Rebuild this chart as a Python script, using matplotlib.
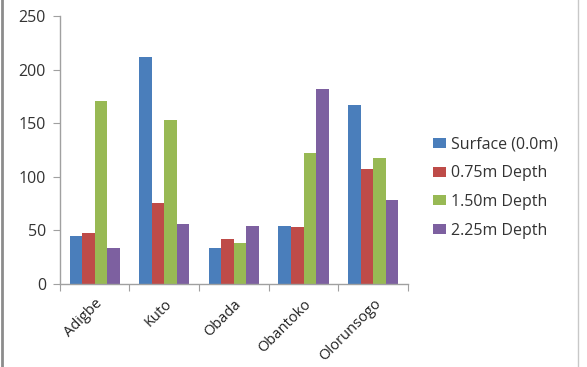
import matplotlib
matplotlib.use("Agg")
import matplotlib.pyplot as plt
import numpy as np
from matplotlib.lines import Line2D

categories = ["Adigbe", "Kuto", "Obada", "Obantoko", "Olorunsogo"]
series_names = ["Surface (0.0m)", "0.75m Depth", "1.50m Depth", "2.25m Depth"]
surface = [45, 212, 34, 54, 167]
d075 = [48, 76, 42, 53, 107]
d150 = [171, 153, 38, 122, 118]
d225 = [34, 56, 54, 182, 78]
colors = ["#4a7ebb", "#be4b48", "#98b954", "#7d60a0"]

plt.rcParams['font.family'] = ['Open Sans', 'DejaVu Sans']

fig = plt.figure(figsize=(5.87, 3.67), dpi=100)
ax = fig.add_axes([0.102, 0.226, 0.593, 0.730])

x = np.arange(len(categories))
w = 0.18
data = [surface, d075, d150, d225]
for i, (vals, c, n) in enumerate(zip(data, colors, series_names)):
    ax.bar(x + (i - 1.5) * w, vals, w, color=c, label=n, zorder=2)

ax.set_xlim(-0.5, len(categories) - 0.5)
ax.set_ylim(0, 250)
ax.set_yticks([0, 50, 100, 150, 200, 250])
ax.set_xticks(np.arange(-0.5, len(categories)), minor=False)
ax.set_xticklabels([])
ax.set_xticks(x, minor=True)
ax.set_xticklabels(categories, minor=True, rotation=45, ha='right', rotation_mode='anchor', fontsize=10.5, color='#222222')
ax.tick_params(axis='x', which='minor', length=0, pad=9)
ax.tick_params(axis='x', which='major', length=5, color='#a0a0a0', direction='out')
ax.tick_params(axis='y', length=5, color='#a0a0a0', direction='out', labelsize=11.5, labelcolor='#333333', pad=5)

for s in ['top', 'right']:
    ax.spines[s].set_visible(False)
for s in ['left', 'bottom']:
    ax.spines[s].set_color('#a0a0a0')
    ax.spines[s].set_linewidth(1)

ax.legend(loc='center left', bbox_to_anchor=(1.03, 0.36), frameon=False, fontsize=11.5,
          handlelength=0.8, handleheight=0.6, handletextpad=0.35, labelspacing=0.8,
          labelcolor='#333333')

fig.add_artist(Line2D([0.004, 0.004], [0, 1], transform=fig.transFigure, color='#8c8c8c', lw=2))
fig.add_artist(Line2D([0.985, 0.985], [0, 1], transform=fig.transFigure, color='#c8c8c8', lw=1))

fig.savefig("out.png", dpi=100)
